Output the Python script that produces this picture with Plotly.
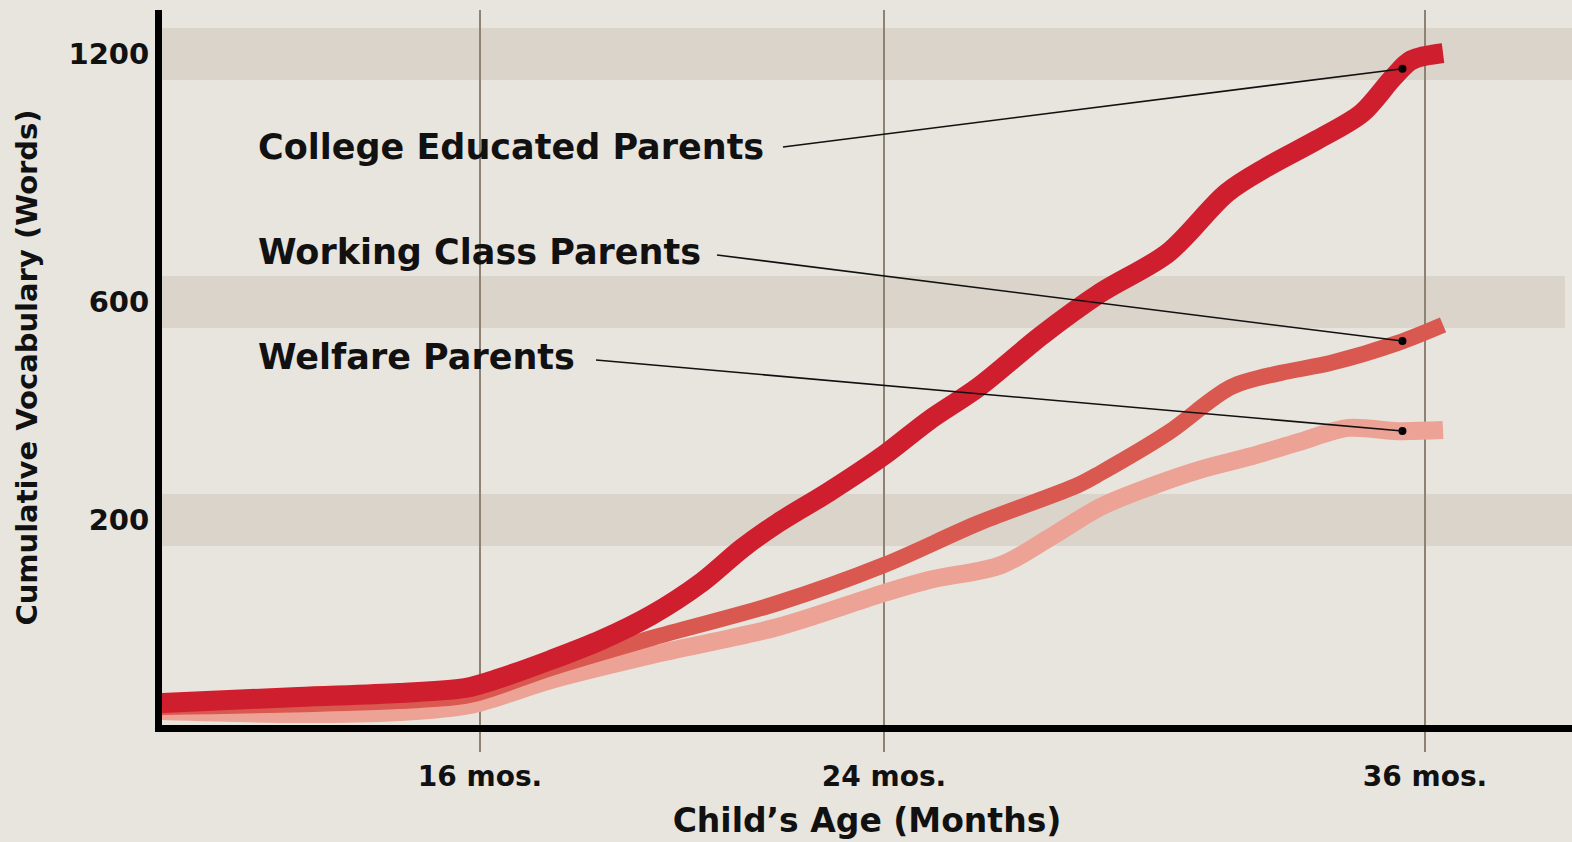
import numpy as np
import plotly.graph_objects as go

# ---------------- data ----------------
# x in months, y in cumulative vocabulary (words)
college_months = [9.7, 12.4, 14.4, 15.7, 16.4, 17.4, 18.4, 19.4, 20.4, 21.2, 21.9, 22.9,
                  24.0, 25.0, 26.1, 27.5, 28.8, 30.3, 31.6, 32.5, 33.6, 34.6, 35.3, 35.7, 36.4]
college_words = [17, 23, 27, 32, 42, 60, 80, 105, 138, 172, 197, 251,
                 319, 383, 444, 539, 622, 719, 864, 927, 992, 1057, 1144, 1185, 1202]

working_months = [9.7, 14.4, 15.8, 17.4, 19.4, 21.9, 24.0, 26.1, 28.3, 28.8, 30.3,
                  31.7, 32.8, 33.9, 35.4, 36.4]
working_words = [13, 19, 25, 52, 82, 117, 155, 197, 264, 286, 360,
                 444, 470, 488, 525, 558]

welfare_months = [9.7, 12.4, 14.4, 15.8, 17.4, 19.4, 21.9, 24.0, 25.0, 26.6, 27.7, 28.8,
                  29.9, 31.0, 32.1, 33.2, 34.3, 35.4, 36.4]
welfare_words = [9, 6, 8, 15, 40, 65, 93, 127, 140, 155, 183, 224,
                 261, 292, 316, 343, 369, 363, 365]

series_names = ["College Educated Parents", "Working Class Parents", "Welfare Parents"]

x_tick_months = [16, 24, 36]
x_tick_labels = ["16 mos.", "24 mos.", "36 mos."]
y_tick_words = [200, 600, 1200]
y_tick_labels = ["200", "600", "1200"]

x_title = "Child’s Age (Months)"
y_title = "Cumulative Vocabulary (Words)"

pointer_month = 35.5

# ---------------- scales (the original axes are not linear) ----------------
X_SRC = [16, 24, 36]
X_DST = [480, 884, 1425]
Y_SRC = [0, 200, 600, 1200]
Y_DST = [720, 520, 302, 54]


def warp(v, src, dst):
    v = np.atleast_1d(np.asarray(v, dtype=float))
    out = np.interp(v, src, dst)
    lo = v < src[0]
    hi = v > src[-1]
    out[lo] = dst[0] + (v[lo] - src[0]) * (dst[1] - dst[0]) / (src[1] - src[0])
    out[hi] = dst[-1] + (v[hi] - src[-1]) * (dst[-1] - dst[-2]) / (src[-1] - src[-2])
    return out


def xs(m):
    return warp(m, X_SRC, X_DST)


def ys(w):
    return warp(w, Y_SRC, Y_DST)


# ---------------- styling ----------------
BG = "#e8e4de"
BAND = "#dbd4ca"
GRID = "#8e8373"
FONT = "DejaVu Sans"
colors = {"College Educated Parents": "#cf1e2e",
          "Working Class Parents": "#d9584f",
          "Welfare Parents": "#eca295"}
widths = {"College Educated Parents": 20,
          "Working Class Parents": 16,
          "Welfare Parents": 18}

data = {
    "College Educated Parents": (college_months, college_words),
    "Working Class Parents": (working_months, working_words),
    "Welfare Parents": (welfare_months, welfare_words),
}

fig = go.Figure()

for name in ["Welfare Parents", "Working Class Parents", "College Educated Parents"]:
    m, w = data[name]
    fig.add_trace(go.Scatter(
        x=xs(m), y=ys(w), mode="lines", name=name,
        line=dict(color=colors[name], width=widths[name], shape="spline", smoothing=0.9),
        hoverinfo="skip", showlegend=False,
    ))

# label text + pointer lines + dots
label_layout = {
    "College Educated Parents": dict(x=256, y=147, x0=783, y0=147),
    "Working Class Parents": dict(x=256, y=252, x0=717, y0=255),
    "Welfare Parents": dict(x=256, y=357, x0=596, y0=360),
}
dot_x, dot_y = [], []
for name in series_names:
    m, w = data[name]
    px = xs(pointer_month)[0]
    py = ys(np.interp(pointer_month, m, w))[0]
    dot_x.append(px)
    dot_y.append(py)
    L = label_layout[name]
    fig.add_annotation(x=L["x"], y=L["y"], xref="x", yref="y", text=name,
                       showarrow=False, xanchor="left", yanchor="middle",
                       font=dict(family=FONT, size=35, color="#111111", weight="bold"))
    fig.add_shape(type="line", xref="x", yref="y", x0=L["x0"], y0=L["y0"], x1=px, y1=py,
                  line=dict(color="#111111", width=1.6), layer="above")

fig.add_trace(go.Scatter(x=dot_x, y=dot_y, mode="markers",
                         marker=dict(color="#000000", size=8),
                         hoverinfo="skip", showlegend=False))

# horizontal bands at the y ticks
band_half = 26
band_ends = [1.0, 0.995, 1.0]
for yv, x1 in zip(y_tick_words, band_ends):
    c = ys(yv)[0]
    fig.add_shape(type="rect", xref="paper", yref="y", x0=0, x1=x1,
                  y0=c - band_half, y1=c + band_half,
                  fillcolor=BAND, line=dict(width=0), layer="below")

fig.update_layout(
    width=1572, height=842,
    margin=dict(l=162, r=0, t=10, b=117),
    paper_bgcolor=BG, plot_bgcolor=BG,
    showlegend=False,
    font=dict(family=FONT, color="#111111"),
)

fig.update_xaxes(
    range=[162, 1572],
    tickvals=xs(x_tick_months), ticktext=x_tick_labels,
    tickfont=dict(family=FONT, size=28, color="#111111", weight="bold"),
    showgrid=True, gridcolor=GRID, gridwidth=1.5,
    ticks="outside", ticklen=20, tickwidth=1.5, tickcolor=GRID,
    showline=True, linecolor="#000000", linewidth=7,
    zeroline=False,
    title=dict(text=x_title, font=dict(family=FONT, size=33, color="#111111", weight="bold"),
               standoff=20),
)
fig.update_yaxes(
    range=[725, 10],
    tickvals=ys(y_tick_words), ticktext=y_tick_labels,
    tickfont=dict(family=FONT, size=29, color="#111111", weight="bold"),
    showgrid=False, ticks="", showline=True, linecolor="#000000", linewidth=7,
    zeroline=False,
    title=dict(text=y_title, font=dict(family=FONT, size=29, color="#111111", weight="bold"),
               standoff=25),
)

fig.write_html("out.html",
               config={"displayModeBar": False},
               post_script="document.body.style.margin='0';document.body.style.overflow='hidden';")
